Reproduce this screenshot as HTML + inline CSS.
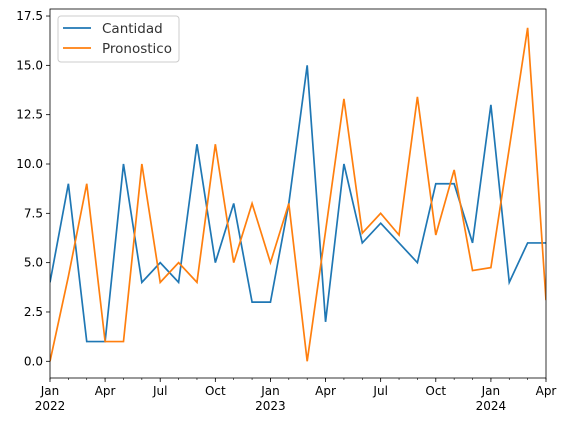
<!DOCTYPE html>
<html><head><meta charset="utf-8"><style>body{margin:0;background:#fff}svg{display:block;font-family:"DejaVu Sans","Liberation Sans",sans-serif}</style></head>
<body>
<svg id="chart" width="568" height="429" xmlns="http://www.w3.org/2000/svg"></svg>
<script>
const months = ["2022-01","2022-02","2022-03","2022-04","2022-05","2022-06","2022-07","2022-08","2022-09","2022-10","2022-11","2022-12","2023-01","2023-02","2023-03","2023-04","2023-05","2023-06","2023-07","2023-08","2023-09","2023-10","2023-11","2023-12","2024-01","2024-02","2024-03","2024-04"];
const cantidad = [4,9,1,1,10,4,5,4,11,5,8,3,3,8,15,2,10,6,7,6,5,9,9,6,13,4,6,6];
const pronostico = [0,4.3,9,1,1,10,4,5,4,11,5,8,5,8,0,6.6,13.3,6.5,7.5,6.4,13.4,6.4,9.7,4.6,4.75,10.8,16.9,3.1];
const yTicks = [0,2.5,5,7.5,10,12.5,15,17.5];
const xTickLabels = [["Jan","2022"],["Apr",""],["Jul",""],["Oct",""],["Jan","2023"],["Apr",""],["Jul",""],["Oct",""],["Jan","2024"],["Apr",""]];
const xTickIdx = [0,3,6,9,12,15,18,21,24,27];
const NS="http://www.w3.org/2000/svg", svg=document.getElementById('chart');
const L=50,R=546,T=9,B=378;
const xs=i=>L+(R-L)*i/(months.length-1);
const ys=v=>361.3-v*19.73;
function mk(t,a,p){const e=document.createElementNS(NS,t);for(const k in a)e.setAttribute(k,a[k]);(p||svg).appendChild(e);return e;}
const clip=mk('clipPath',{id:'c'});mk('rect',{x:L,y:T,width:R-L,height:B-T},clip);
yTicks.forEach(v=>{
  const tk=mk('line',{x1:L-4,x2:L,y1:ys(v),y2:ys(v),stroke:'#000','stroke-width':0.8});
  
  
  const t=mk('text',{x:L-7,y:ys(v)+4,'text-anchor':'end','font-size':12,fill:'#000'});t.textContent=v.toFixed(1);
  
  
});
for(let i=0;i<months.length;i++){
  const tk=mk('line',{x1:xs(i),x2:xs(i),y1:B,y2:B+2,stroke:'#000','stroke-width':0.6});
  
  
}
xTickIdx.forEach((i,k)=>{
  const tk=mk('line',{x1:xs(i),x2:xs(i),y1:B,y2:B+4,stroke:'#000','stroke-width':0.8});
  
  
  const t=mk('text',{x:xs(i),y:B+17,'text-anchor':'middle','font-size':12});t.textContent=xTickLabels[k][0];
  
  
  if(xTickLabels[k][1]){const t2=mk('text',{x:xs(i),y:B+32,'text-anchor':'middle','font-size':12});t2.textContent=xTickLabels[k][1];
  
  }
});
function series(d,c,n){const p=mk('polyline',{points:d.map((v,i)=>xs(i)+','+ys(v)).join(' '),fill:'none',stroke:c,'stroke-width':1.7,'clip-path':'url(#c)'});
  
  }
series(cantidad,'#1f77b4','cantidad-line');
series(pronostico,'#ff7f0e','pronostico-line');
const fr=mk('rect',{x:L,y:T,width:R-L,height:B-T,fill:'none',stroke:'#000','stroke-width':0.8});


const lg=mk('g',{});


mk('rect',{x:58,y:16,width:121,height:46,rx:3,fill:'#fff','fill-opacity':0.8,stroke:'#ccc'},lg);
[['Cantidad','#1f77b4'],['Pronostico','#ff7f0e']].forEach((e,k)=>{
  const y=28+k*20;
  mk('line',{x1:63,x2:91,y1:y,y2:y,stroke:e[1],'stroke-width':1.7},lg);
  const t=mk('text',{x:102,y:y+5,'font-size':13.5,fill:'#333'},lg);t.textContent=e[0];
  
  
});
</script>
</body></html>
